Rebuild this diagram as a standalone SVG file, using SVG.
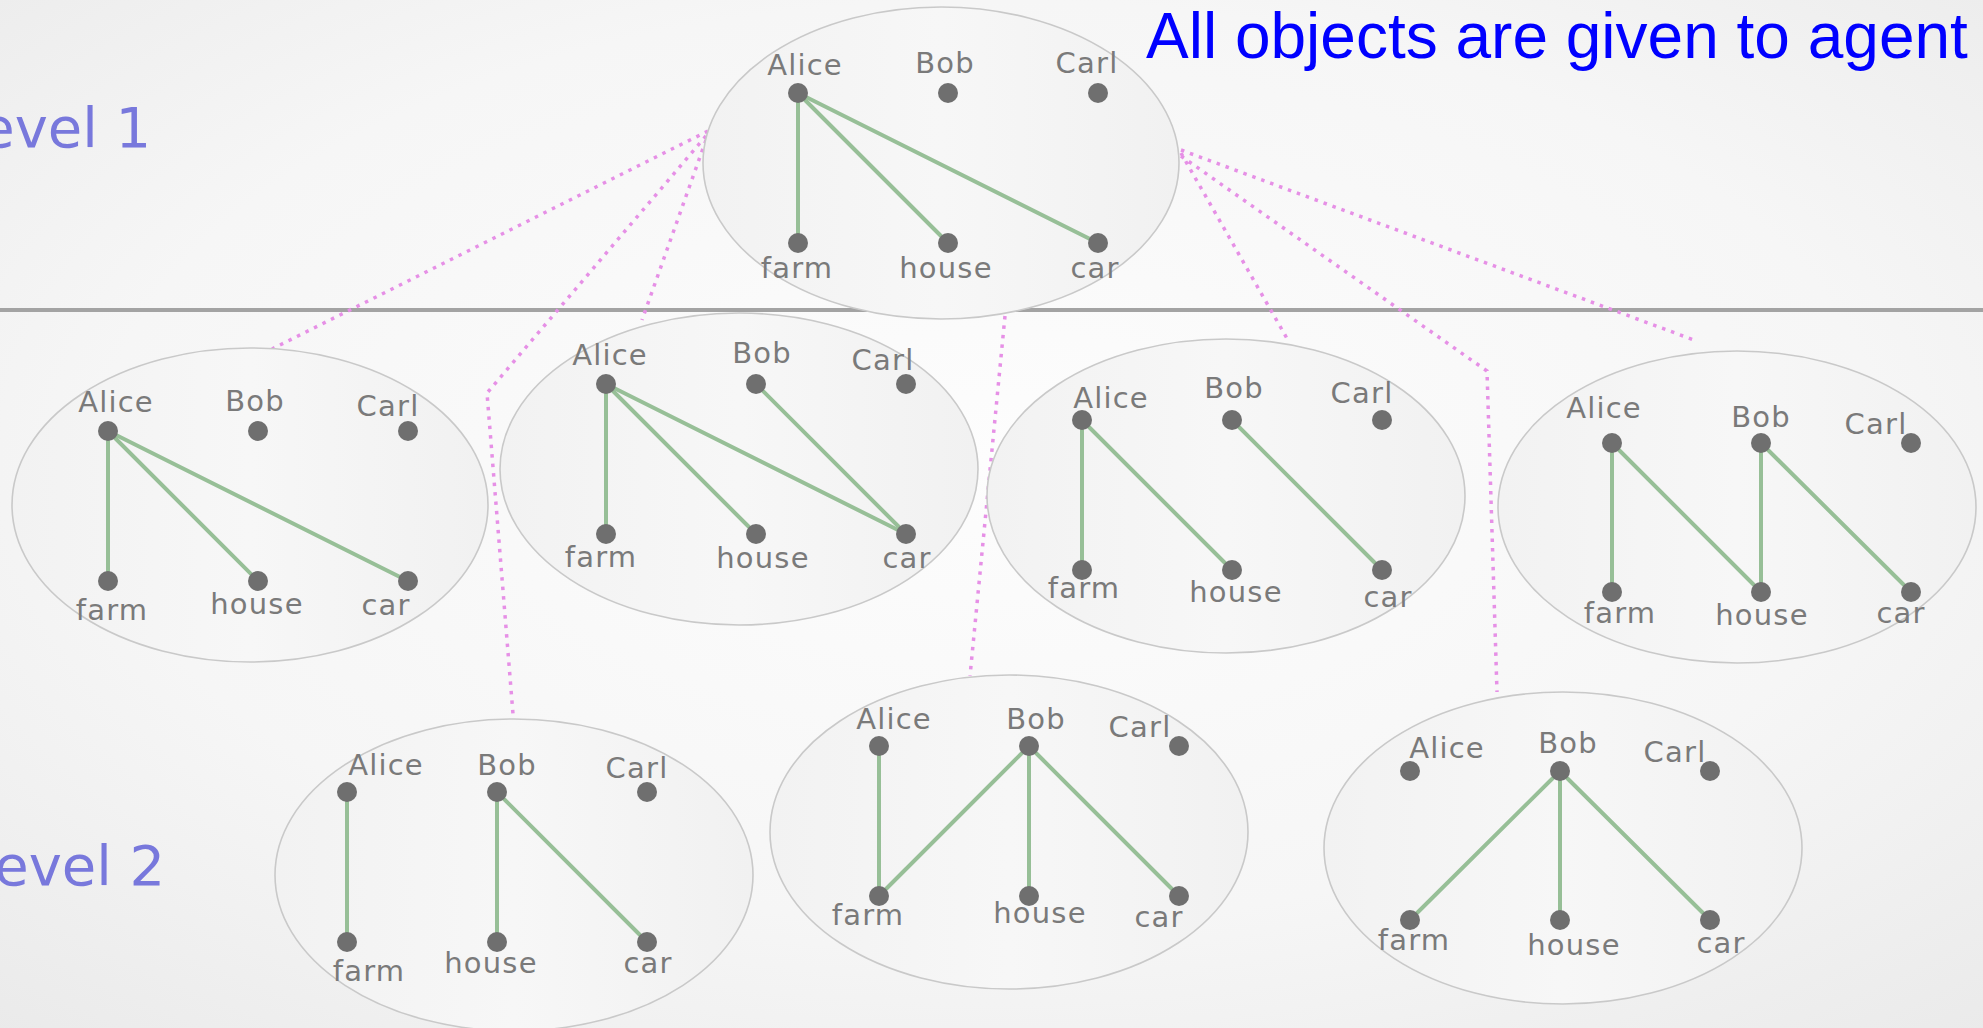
<svg xmlns="http://www.w3.org/2000/svg" width="1983" height="1028" viewBox="0 0 1983 1028">
  <defs>
    <radialGradient id="bg" cx="0.5" cy="0.45" r="0.75">
      <stop offset="0" stop-color="#fdfdfd"/>
      <stop offset="0.6" stop-color="#f6f6f6"/>
      <stop offset="1" stop-color="#eaeaea"/>
    </radialGradient>
    <linearGradient id="blob" x1="0" y1="0" x2="1" y2="0">
      <stop offset="0" stop-color="#f2f2f2"/>
      <stop offset="0.5" stop-color="#f7f7f7"/>
      <stop offset="1" stop-color="#f1f1f1"/>
    </linearGradient>
  </defs>
  <style>
    .state { fill: url(#blob); stroke: #c9c9c9; stroke-width: 1.6; }
    .edge { stroke: #97bf97; stroke-width: 4; fill: none; stroke-linecap: round; }
    .dot { fill: #6f6f6f; }
    .lbl { font-family: "DejaVu Sans", Verdana, sans-serif; font-size: 29px; letter-spacing: 1.2px; fill: #7a7a7a; text-anchor: middle; }
    .level { font-family: "DejaVu Sans", Verdana, sans-serif; font-size: 56px; fill: #7878dc; }
    .title { font-family: "Liberation Sans", Arial, sans-serif; font-size: 64px; fill: #0000ff; }
    .link { stroke: #e690e6; stroke-width: 3.5; fill: none; stroke-dasharray: 3.5 6; }
    .divider { stroke: #a3a3a3; stroke-width: 4; }
  </style>

  <rect width="1983" height="1028" fill="url(#bg)"/>

  <!-- level separator -->
  <line class="divider" x1="0" y1="310" x2="1983" y2="310"/>

  <!-- level captions (running off the left edge) and title -->
  <text class="level" x="-50" y="147">Level 1</text>
  <text class="level" x="-36" y="885">Level 2</text>
  <text class="title" x="1146" y="58">All objects are given to agent</text>

  <!-- dotted links from the level-1 state to its successors -->
  <g id="connectors">
    <polyline class="link" points="708,131 272,349"/>
    <polyline class="link" points="706,136 487,393 513,714"/>
    <polyline class="link" points="706,140 642,320"/>
    <polyline class="link" points="1005,316 970,676"/>
    <polyline class="link" points="1181,153 1289,342"/>
    <polyline class="link" points="1181,156 1487,371 1497,692"/>
    <polyline class="link" points="1181,150 1694,340"/>
  </g>

  <!-- level 1: Alice holds everything -->
  <g id="state-root">
    <ellipse class="state" cx="941" cy="163" rx="238" ry="156"/>
    <line class="edge" x1="798" y1="93" x2="798" y2="243"/>
    <line class="edge" x1="798" y1="93" x2="948" y2="243"/>
    <line class="edge" x1="798" y1="93" x2="1098" y2="243"/>
    <circle class="dot" cx="798" cy="93" r="10"/>
    <circle class="dot" cx="948" cy="93" r="10"/>
    <circle class="dot" cx="1098" cy="93" r="10"/>
    <circle class="dot" cx="798" cy="243" r="10"/>
    <circle class="dot" cx="948" cy="243" r="10"/>
    <circle class="dot" cx="1098" cy="243" r="10"/>
    <text class="lbl" x="805" y="75">Alice</text>
    <text class="lbl" x="945" y="73">Bob</text>
    <text class="lbl" x="1087" y="73">Carl</text>
    <text class="lbl" x="797" y="278">farm</text>
    <text class="lbl" x="946" y="278">house</text>
    <text class="lbl" x="1095" y="278">car</text>
  </g>

  <!-- level 2, upper row -->
  <g id="state-a">
    <ellipse class="state" cx="250" cy="505" rx="238" ry="157"/>
    <line class="edge" x1="108" y1="431" x2="108" y2="581"/>
    <line class="edge" x1="108" y1="431" x2="258" y2="581"/>
    <line class="edge" x1="108" y1="431" x2="408" y2="581"/>
    <circle class="dot" cx="108" cy="431" r="10"/>
    <circle class="dot" cx="258" cy="431" r="10"/>
    <circle class="dot" cx="408" cy="431" r="10"/>
    <circle class="dot" cx="108" cy="581" r="10"/>
    <circle class="dot" cx="258" cy="581" r="10"/>
    <circle class="dot" cx="408" cy="581" r="10"/>
    <text class="lbl" x="116" y="412">Alice</text>
    <text class="lbl" x="255" y="411">Bob</text>
    <text class="lbl" x="388" y="416">Carl</text>
    <text class="lbl" x="112" y="620">farm</text>
    <text class="lbl" x="257" y="614">house</text>
    <text class="lbl" x="386" y="615">car</text>
  </g>

  <g id="state-b">
    <ellipse class="state" cx="739" cy="469" rx="239" ry="156"/>
    <line class="edge" x1="606" y1="384" x2="606" y2="534"/>
    <line class="edge" x1="606" y1="384" x2="756" y2="534"/>
    <line class="edge" x1="606" y1="384" x2="906" y2="534"/>
    <line class="edge" x1="756" y1="384" x2="906" y2="534"/>
    <circle class="dot" cx="606" cy="384" r="10"/>
    <circle class="dot" cx="756" cy="384" r="10"/>
    <circle class="dot" cx="906" cy="384" r="10"/>
    <circle class="dot" cx="606" cy="534" r="10"/>
    <circle class="dot" cx="756" cy="534" r="10"/>
    <circle class="dot" cx="906" cy="534" r="10"/>
    <text class="lbl" x="610" y="365">Alice</text>
    <text class="lbl" x="762" y="363">Bob</text>
    <text class="lbl" x="883" y="370">Carl</text>
    <text class="lbl" x="601" y="567">farm</text>
    <text class="lbl" x="763" y="568">house</text>
    <text class="lbl" x="907" y="568">car</text>
  </g>

  <g id="state-c">
    <ellipse class="state" cx="1226" cy="496" rx="239" ry="157"/>
    <line class="edge" x1="1082" y1="420" x2="1082" y2="570"/>
    <line class="edge" x1="1082" y1="420" x2="1232" y2="570"/>
    <line class="edge" x1="1232" y1="420" x2="1382" y2="570"/>
    <circle class="dot" cx="1082" cy="420" r="10"/>
    <circle class="dot" cx="1232" cy="420" r="10"/>
    <circle class="dot" cx="1382" cy="420" r="10"/>
    <circle class="dot" cx="1082" cy="570" r="10"/>
    <circle class="dot" cx="1232" cy="570" r="10"/>
    <circle class="dot" cx="1382" cy="570" r="10"/>
    <text class="lbl" x="1111" y="408">Alice</text>
    <text class="lbl" x="1234" y="398">Bob</text>
    <text class="lbl" x="1362" y="403">Carl</text>
    <text class="lbl" x="1084" y="598">farm</text>
    <text class="lbl" x="1236" y="602">house</text>
    <text class="lbl" x="1388" y="607">car</text>
  </g>

  <g id="state-d">
    <ellipse class="state" cx="1737" cy="507" rx="239" ry="156"/>
    <line class="edge" x1="1612" y1="443" x2="1612" y2="592"/>
    <line class="edge" x1="1612" y1="443" x2="1761" y2="592"/>
    <line class="edge" x1="1761" y1="443" x2="1761" y2="592"/>
    <line class="edge" x1="1761" y1="443" x2="1911" y2="592"/>
    <circle class="dot" cx="1612" cy="443" r="10"/>
    <circle class="dot" cx="1761" cy="443" r="10"/>
    <circle class="dot" cx="1911" cy="443" r="10"/>
    <circle class="dot" cx="1612" cy="592" r="10"/>
    <circle class="dot" cx="1761" cy="592" r="10"/>
    <circle class="dot" cx="1911" cy="592" r="10"/>
    <text class="lbl" x="1604" y="418">Alice</text>
    <text class="lbl" x="1761" y="427">Bob</text>
    <text class="lbl" x="1876" y="434">Carl</text>
    <text class="lbl" x="1620" y="623">farm</text>
    <text class="lbl" x="1762" y="625">house</text>
    <text class="lbl" x="1901" y="623">car</text>
  </g>

  <!-- level 2, lower row -->
  <g id="state-e">
    <ellipse class="state" cx="514" cy="875" rx="239" ry="156"/>
    <line class="edge" x1="347" y1="792" x2="347" y2="942"/>
    <line class="edge" x1="497" y1="792" x2="497" y2="942"/>
    <line class="edge" x1="497" y1="792" x2="647" y2="942"/>
    <circle class="dot" cx="347" cy="792" r="10"/>
    <circle class="dot" cx="497" cy="792" r="10"/>
    <circle class="dot" cx="647" cy="792" r="10"/>
    <circle class="dot" cx="347" cy="942" r="10"/>
    <circle class="dot" cx="497" cy="942" r="10"/>
    <circle class="dot" cx="647" cy="942" r="10"/>
    <text class="lbl" x="386" y="775">Alice</text>
    <text class="lbl" x="507" y="775">Bob</text>
    <text class="lbl" x="637" y="778">Carl</text>
    <text class="lbl" x="369" y="981">farm</text>
    <text class="lbl" x="491" y="973">house</text>
    <text class="lbl" x="648" y="973">car</text>
  </g>

  <g id="state-f">
    <ellipse class="state" cx="1009" cy="832" rx="239" ry="157"/>
    <line class="edge" x1="879" y1="746" x2="879" y2="896"/>
    <line class="edge" x1="1029" y1="746" x2="879" y2="896"/>
    <line class="edge" x1="1029" y1="746" x2="1029" y2="896"/>
    <line class="edge" x1="1029" y1="746" x2="1179" y2="896"/>
    <circle class="dot" cx="879" cy="746" r="10"/>
    <circle class="dot" cx="1029" cy="746" r="10"/>
    <circle class="dot" cx="1179" cy="746" r="10"/>
    <circle class="dot" cx="879" cy="896" r="10"/>
    <circle class="dot" cx="1029" cy="896" r="10"/>
    <circle class="dot" cx="1179" cy="896" r="10"/>
    <text class="lbl" x="894" y="729">Alice</text>
    <text class="lbl" x="1036" y="729">Bob</text>
    <text class="lbl" x="1140" y="737">Carl</text>
    <text class="lbl" x="868" y="925">farm</text>
    <text class="lbl" x="1040" y="923">house</text>
    <text class="lbl" x="1159" y="927">car</text>
  </g>

  <g id="state-g">
    <ellipse class="state" cx="1563" cy="848" rx="239" ry="156"/>
    <line class="edge" x1="1560" y1="771" x2="1410" y2="920"/>
    <line class="edge" x1="1560" y1="771" x2="1560" y2="920"/>
    <line class="edge" x1="1560" y1="771" x2="1710" y2="920"/>
    <circle class="dot" cx="1410" cy="771" r="10"/>
    <circle class="dot" cx="1560" cy="771" r="10"/>
    <circle class="dot" cx="1710" cy="771" r="10"/>
    <circle class="dot" cx="1410" cy="920" r="10"/>
    <circle class="dot" cx="1560" cy="920" r="10"/>
    <circle class="dot" cx="1710" cy="920" r="10"/>
    <text class="lbl" x="1447" y="758">Alice</text>
    <text class="lbl" x="1568" y="753">Bob</text>
    <text class="lbl" x="1675" y="762">Carl</text>
    <text class="lbl" x="1414" y="950">farm</text>
    <text class="lbl" x="1574" y="955">house</text>
    <text class="lbl" x="1721" y="953">car</text>
  </g>
</svg>
